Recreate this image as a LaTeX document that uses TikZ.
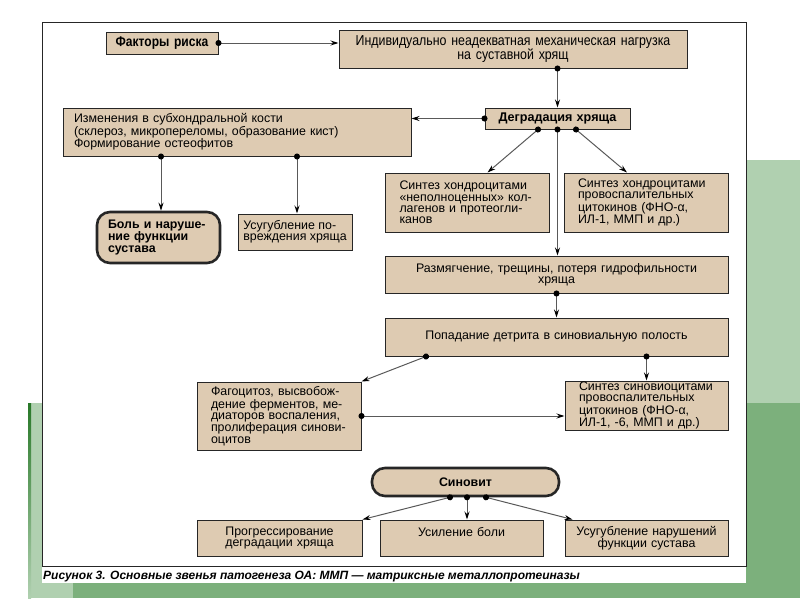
\documentclass[tikz,border=0pt]{standalone}
\usepackage{fontspec}
\setmainfont{Liberation Sans}
\newfontfamily\narrowfont{Liberation Sans}[FakeStretch=0.86]
\usetikzlibrary{arrows.meta}

\definecolor{boxfill}{RGB}{222,203,178}
\definecolor{lightgreen}{RGB}{176,208,176}
\definecolor{darkgreen}{RGB}{124,176,124}
\definecolor{edgegreen}{RGB}{40,120,40}

\tikzset{
	box/.style={draw=black!85, fill=boxfill, line width=1pt, inner xsep=14pt, inner ysep=0pt,
		font=\fontsize{12.4}{11.2}\selectfont},
	thickbox/.style={box, line width=2.6pt, rounded corners=13pt, font=\fontsize{12.4}{11.6}\selectfont\bfseries},
	topbox/.style={box, font=\fontsize{14.4}{14}\selectfont\narrowfont},
	link/.style={draw=black!65, line width=1pt, shorten <=-3pt,
		{Circle[length=6pt,black]}-{Stealth[length=8pt,width=5pt,black]}},
	caption/.style={font=\fontsize{12}{12}\selectfont\bfseries\itshape, inner sep=0pt}
}

\begin{document}
\begin{tikzpicture}[x=1pt, y=-1pt]
	\useasboundingbox (0,0) rectangle (800,600);
	
	%Green page edges
	\fill[lightgreen] (746,160) rectangle (800,403);
	\fill[darkgreen] (746,403) rectangle (800,598);
	\fill[lightgreen] (28,403) rectangle (42,598);
	\fill[lightgreen] (28,583) rectangle (73,598);
	\fill[darkgreen] (73,583) rectangle (746,598);
	\shade[top color=edgegreen, bottom color=lightgreen] (28,403) rectangle (31,598);
	\draw[line width=1pt, black!85] (42,22.5) rectangle (746,566);
	
	%Top row
	\node[topbox, align=center, text width=100pt, inner xsep=6pt, minimum height=22pt, font=\fontsize{14}{14}\selectfont\narrowfont\bfseries] (risk) at (162,43) {Факторы риска};
	\node[topbox, align=center, text width=330pt, inner xsep=9pt, minimum height=38pt] (load) at (513,49) {Индивидуально неадекватная механическая нагрузка\\на суставной хрящ};
	\node[box, align=center, text width=133pt, inner xsep=6pt, minimum height=21pt, font=\fontsize{12.6}{12}\selectfont\bfseries] (degr) at (557.5,118.5) {Деградация хряща};
	
	%Subchondral bone
	\node[box, align=left, text width=326pt, inner xsep=11pt, minimum height=48pt] (bone) at (237,132) {Изменения в субхондральной кости\\(склероз, микропереломы, образование кист)\\Формирование остеофитов};
	\node[thickbox, align=left, text width=101pt, inner xsep=11pt, minimum height=51pt] (pain) at (158.5,237.5) {Боль и наруше-\\ние функции\\сустава};
	\node[box, align=left, inner xsep=4pt, minimum width=114pt, minimum height=36pt] (worse) at (295,232) {Усугубление по-\\вреждения хряща};
	
	%Chondrocytes
	\node[box, align=left, text width=136pt, minimum height=59pt] (synth1) at (467.5,202.5) {Синтез хондроцитами\\«неполноценных» кол-\\лагенов и протеогли-\\канов};
	\node[box, align=left, text width=136pt, minimum height=59pt] (synth2) at (646,202.5) {Синтез хондроцитами\\провоспалительных\\цитокинов (ФНО-α,\\ИЛ-1, ММП и др.)};
	\node[box, align=center, text width=323pt, inner xsep=10pt, minimum height=37pt] (soft) at (556.5,274.5) {Размягчение, трещины, потеря гидрофильности\\хряща};
	\node[box, align=center, text width=323pt, inner xsep=10pt, minimum height=38pt] (detr) at (556.5,337) {Попадание детрита в синовиальную полость};
	
	%Synovium
	\node[box, align=left, text width=136pt, minimum height=68pt] (phag) at (279,416) {Фагоцитоз, высвобож-\\дение ферментов, ме-\\диаторов воспаления,\\пролиферация синови-\\оцитов};
	\node[box, align=left, text width=135pt, minimum height=49pt] (synov) at (646.5,405.5) {Синтез синовиоцитами\\провоспалительных\\цитокинов (ФНО-α,\\ИЛ-1, -6, ММП и др.)};
	\node[thickbox, align=center, text width=167pt, inner xsep=10pt, minimum height=28pt] (syn) at (465.5,482) {Синовит};
	
	%Bottom row
	\node[box, align=center, text width=145pt, inner xsep=10pt, minimum height=36pt] (prog) at (279.5,538) {Прогрессирование\\деградации хряща};
	\node[box, align=center, text width=143pt, inner xsep=10pt, minimum height=36pt] (pain2) at (461.5,538) {Усиление боли\\~};
	\node[box, align=center, text width=143pt, inner xsep=10pt, minimum height=36pt] (func) at (646.5,538) {Усугубление нарушений\\функции сустава};
	
	\node[caption, anchor=west] (cap) at (43,577) {Рисунок 3. Основные звенья патогенеза ОА: ММП — матриксные металлопротеиназы};
	
	%Links
	\coordinate (d1) at ([xshift=-19.5pt]degr.south);
	\coordinate (d2) at (degr.south);
	\coordinate (d3) at ([xshift=18.5pt]degr.south);
	\coordinate (s1) at ([xshift=-15.5pt]syn.south);
	\coordinate (s2) at ([xshift=1.5pt]syn.south);
	\coordinate (s3) at ([xshift=20.5pt]syn.south);
	
	\draw[link] (risk.east) -- (risk.east -| load.west);
	\draw[link] (degr.north |- load.south) -- (degr.north);
	\draw[link] (degr.west) -- (degr.west -| bone.east);
	\draw[link] ([xshift=2.5pt]pain.north |- bone.south) -- ([xshift=2.5pt]pain.north);
	\draw[link] ([xshift=2pt]worse.north |- bone.south) -- ([xshift=2pt]worse.north);
	\draw[link] (d1) -- ([xshift=20pt]synth1.north);
	\draw[link] (d2) -- (d2 |- soft.north);
	\draw[link] (d3) -- ([xshift=-19pt]synth2.north);
	\draw[link] (soft.south) -- (detr.north);
	\draw[link] ([xshift=-130.5pt]detr.south) -- (phag.north east);
	\draw[link] (synov.north |- detr.south) -- (synov.north);
	\draw[link] (phag.east) -- (phag.east -| synov.west);
	\draw[link] (s1) -- (prog.north east);
	\draw[link] (s2) -- (s2 |- pain2.north);
	\draw[link] (s3) -- ([xshift=8pt]func.north west);
\end{tikzpicture}
\end{document}
